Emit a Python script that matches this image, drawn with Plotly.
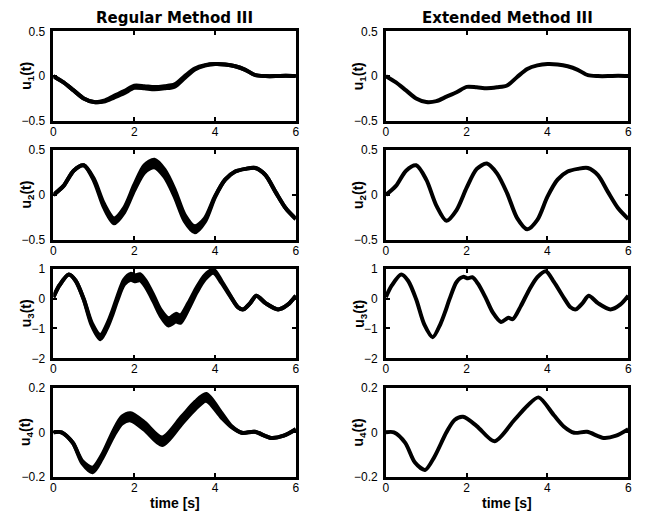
import plotly.graph_objects as go

# ---------------- data ----------------
t_uniform = [0.0, 0.25, 0.5, 0.75, 1.0, 1.25, 1.5, 1.75, 2.0, 2.25, 2.5, 2.75, 3.0,
             3.25, 3.5, 3.75, 4.0, 4.25, 4.5, 4.75, 5.0, 5.25, 5.5, 5.75, 6.0]

u1 = [0.0, -0.07, -0.16, -0.25, -0.29, -0.28, -0.23, -0.18, -0.12, -0.125, -0.135, -0.125, -0.105,
      -0.01, 0.08, 0.12, 0.135, 0.13, 0.11, 0.07, 0.01, 0.0, 0.0, 0.005, 0.0]
u1_chatter = [0, 0, 0, 0, 0, 0.005, 0.01, 0.012, 0.012, 0.012, 0.012, 0.012, 0.012,
              0.01, 0.006, 0.003, 0, 0, 0, 0, 0, 0, 0, 0, 0]

u2 = [0.0, 0.10, 0.27, 0.33, 0.17, -0.12, -0.29, -0.17, 0.08, 0.29, 0.35, 0.24, 0.02,
      -0.26, -0.385, -0.28, -0.02, 0.17, 0.26, 0.29, 0.30, 0.22, 0.03, -0.15, -0.27]
u2_chatter = [0, 0, 0, 0, 0.01, 0.02, 0.027, 0.025, 0.03, 0.04, 0.042, 0.04, 0.04,
              0.035, 0.033, 0.02, 0.005, 0, 0, 0, 0, 0, 0, 0, 0]

t3 = [0.00, 0.15, 0.38, 0.55, 0.75, 0.95, 1.16, 1.35, 1.46, 1.58, 1.75, 1.91, 2.03, 2.14,
      2.28, 2.48, 2.65, 2.85, 3.03, 3.14, 3.34, 3.55, 3.75, 3.96, 4.16, 4.41, 4.57, 4.70,
      4.87, 5.02, 5.25, 5.56, 5.80, 6.00]
u3 = [0.05, 0.45, 0.81, 0.6, -0.02, -0.86, -1.29, -0.85, -0.47, 0.0, 0.56, 0.73, 0.68, 0.72,
      0.5, 0.0, -0.47, -0.78, -0.64, -0.69, -0.25, 0.3, 0.72, 0.92, 0.56, 0.02, -0.29, -0.36,
      -0.15, 0.1, -0.15, -0.36, -0.2, 0.1]
u3_chatter = [0, 0, 0, 0, 0.01, 0.04, 0.07, 0.06, 0.06, 0.06, 0.08, 0.1, 0.1, 0.1,
              0.1, 0.1, 0.1, 0.12, 0.13, 0.12, 0.1, 0.08, 0.07, 0.05, 0.03, 0.01, 0, 0,
              0, 0, 0, 0, 0, 0]

t4 = [0.00, 0.20, 0.48, 0.72, 0.97, 1.20, 1.50, 1.70, 1.91, 2.25, 2.69, 3.18, 3.51, 3.78,
      4.16, 4.41, 4.66, 4.98, 5.39, 5.70, 6.00]
u4 = [0.0, 0.0, -0.047, -0.135, -0.168, -0.11, 0.0, 0.055, 0.069, 0.028, -0.04, 0.055, 0.12, 0.156,
      0.076, 0.025, -0.002, 0.002, -0.025, -0.015, 0.014]
u4_chatter = [0, 0, 0, 0.005, 0.01, 0.008, 0.012, 0.015, 0.016, 0.016, 0.017, 0.016, 0.016, 0.015,
              0.01, 0.002, 0, 0, 0, 0, 0]

y_ranges = [[-0.5, 0.5], [-0.5, 0.5], [-2, 1], [-0.2, 0.2]]
y_ticks = [[-0.5, 0, 0.5], [-0.5, 0, 0.5], [-2, -1, 0, 1], [-0.2, 0, 0.2]]
x_ticks = [0, 2, 4, 6]
y_titles = ["u<sub>1</sub>(t)", "u<sub>2</sub>(t)", "u<sub>3</sub>(t)", "u<sub>4</sub>(t)"]
col_titles = ["Regular Method III", "Extended Method III"]
x_title = "time [s]"

series = [(t_uniform, u1, u1_chatter), (t_uniform, u2, u2_chatter),
          (t3, u3, u3_chatter), (t4, u4, u4_chatter)]

# ---------------- layout geometry ----------------
W, H = 656, 523
col_px = [(51, 296), (387, 632)]
row_px = [(25, 117), (147, 239), (269, 361), (391, 483)]

FONT = "Liberation Sans, Arial, Helvetica, sans-serif"
TITLE_FONT = "DejaVu Sans, Liberation Sans, sans-serif"
LW = 4

fig = go.Figure()
layout = dict(width=W, height=H, margin=dict(l=0, r=0, t=0, b=0),
              paper_bgcolor="white", plot_bgcolor="white", showlegend=False,
              font=dict(family=FONT, size=12, color="black"))
annotations = []

for c in range(2):
    for r in range(4):
        idx = c * 4 + r + 1
        xa = "x" if idx == 1 else f"x{idx}"
        ya = "y" if idx == 1 else f"y{idx}"
        t, v, ch = series[r]
        line = dict(color="black", width=LW, shape="spline", smoothing=0.8)
        if c == 0:
            lower = [a - b for a, b in zip(v, ch)]
            upper = [a + b for a, b in zip(v, ch)]
            fig.add_trace(go.Scatter(x=t, y=lower, mode="lines", line=line,
                                     xaxis=xa, yaxis=ya, hoverinfo="skip"))
            fig.add_trace(go.Scatter(x=t, y=upper, mode="lines", line=line,
                                     fill="tonexty", fillcolor="black",
                                     xaxis=xa, yaxis=ya, hoverinfo="skip"))
        else:
            fig.add_trace(go.Scatter(x=t, y=v, mode="lines", line=line,
                                     xaxis=xa, yaxis=ya, hoverinfo="skip"))
        x0, x1 = col_px[c]
        y0, y1 = row_px[r]
        axis_common = dict(showgrid=False, zeroline=False, showline=True,
                           linecolor="black", linewidth=2.5, mirror="ticks",
                           ticks="inside", ticklen=4, tickwidth=2, tickcolor="black",
                           tickfont=dict(family=FONT, size=12, color="black"))
        layout["xaxis" if idx == 1 else f"xaxis{idx}"] = dict(
            axis_common, domain=[x0 / W, x1 / W], range=[0, 6],
            tickvals=x_ticks, anchor=ya, ticklabelstandoff=-2)
        layout["yaxis" if idx == 1 else f"yaxis{idx}"] = dict(
            axis_common, domain=[1 - y1 / H, 1 - y0 / H], range=y_ranges[r],
            tickvals=y_ticks[r], anchor=xa, ticklabelstandoff=3)
        annotations.append(dict(text=f"<b>{y_titles[r]}</b>", textangle=-90, showarrow=False,
                                xref="paper", yref="paper",
                                x=(x0 - 27) / W, y=1 - (y0 + y1) / 2 / H,
                                xanchor="center", yanchor="middle",
                                font=dict(family=FONT, size=14, color="black")))
    cx = (col_px[c][0] + col_px[c][1]) / 2 / W
    annotations.append(dict(text=f"<b>{col_titles[c]}</b>", showarrow=False,
                            xref="paper", yref="paper", x=cx, y=1 - 11 / H,
                            xanchor="center", yanchor="middle",
                            font=dict(family=TITLE_FONT, size=15, color="black")))
    annotations.append(dict(text=f"<b>{x_title}</b>", showarrow=False,
                            xref="paper", yref="paper", x=cx, y=1 - 510 / H,
                            xanchor="center", yanchor="middle",
                            font=dict(family=FONT, size=14, color="black")))

layout["annotations"] = annotations
fig.update_layout(**layout)
fig.write_html("out.html", config={"displayModeBar": False},
               post_script="document.body.style.margin='0px';document.body.style.overflow='hidden';")
